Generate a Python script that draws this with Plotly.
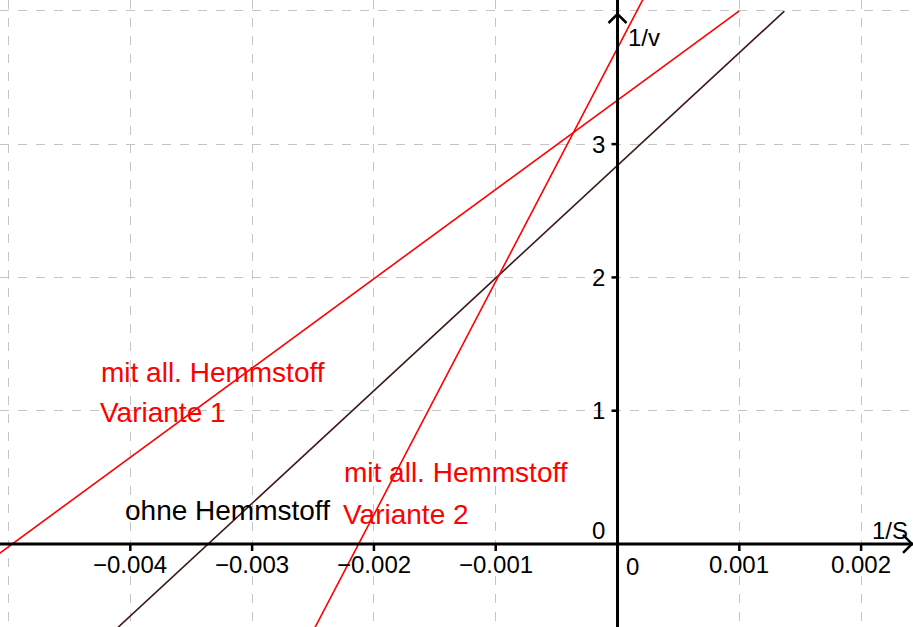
import plotly.graph_objects as go

# Lineweaver-Burk lines: 1/v = intercept + slope * (1/S)
line_names = ["ohne Hemmstoff", "mit all. Hemmstoff Variante 1", "mit all. Hemmstoff Variante 2"]
intercepts = [2.84, 3.33, 3.72]
slopes = [845.0, 670.0, 1750.0]
x_starts = [-0.0055, -0.0055, -0.0055]
x_ends = [0.00137, 0.001, 0.0025]
line_colors = ["#3d1a1a", "#ff0000", "#ff0000"]

x_ticks = [-0.004, -0.003, -0.002, -0.001, 0.001, 0.002]
x_tick_labels = ["\u22120.004", "\u22120.003", "\u22120.002", "\u22120.001", "0.001", "0.002"]
y_ticks = [1, 2, 3]
y_tick_labels = ["1", "2", "3"]

X_MIN, X_MAX = -0.00507, 0.002426
Y_MIN, Y_MAX = -0.6227, 4.081

FONT = "Liberation Sans, Arial, sans-serif"

fig = go.Figure()
for name, b, m, x0, x1, c in zip(line_names, intercepts, slopes, x_starts, x_ends, line_colors):
    xs = [x0, x1]
    fig.add_trace(go.Scatter(x=xs, y=[b + m * x for x in xs], mode="lines",
                             line=dict(color=c, width=1.6), name=name,
                             hoverinfo="skip", showlegend=False))

shapes = []
# axes
shapes.append(dict(type="line", xref="x", yref="y", x0=X_MIN, x1=X_MAX, y0=0, y1=0,
                   line=dict(color="black", width=3), layer="above"))
shapes.append(dict(type="line", xref="x", yref="y", x0=0, x1=0, y0=Y_MIN, y1=Y_MAX,
                   line=dict(color="black", width=3), layer="above"))
# arrow heads
shapes.append(dict(type="path", xref="x", yref="y", xsizemode="pixel", ysizemode="pixel",
                   xanchor=X_MAX, yanchor=0, path="M -10,9 L -1,0 L -10,-9",
                   line=dict(color="black", width=2.5), layer="above"))
shapes.append(dict(type="path", xref="x", yref="y", xsizemode="pixel", ysizemode="pixel",
                   xanchor=0, yanchor=Y_MAX, path="M -9,-23 L 0,-14 L 9,-23",
                   line=dict(color="black", width=2.5), layer="above"))
# tick marks
for t in x_ticks:
    shapes.append(dict(type="line", xref="x", yref="y", ysizemode="pixel", yanchor=0,
                       x0=t, x1=t, y0=0, y1=-7, line=dict(color="black", width=2.5), layer="above"))
for t in y_ticks:
    shapes.append(dict(type="line", xref="x", yref="y", xsizemode="pixel", xanchor=0,
                       x0=-6, x1=0, y0=t, y1=t, line=dict(color="black", width=2.5), layer="above"))

ann = []
for t, lab in zip(x_ticks, x_tick_labels):
    ann.append(dict(x=t, y=0, text=lab, showarrow=False, yshift=-21, xanchor="center",
                    yanchor="middle", font=dict(size=24, color="black", family=FONT)))
ann.append(dict(x=0, y=0, text="0", showarrow=False, xshift=15, yshift=-23, xanchor="center",
                yanchor="middle", font=dict(size=24, color="black", family=FONT)))
for t, lab in zip(y_ticks, y_tick_labels):
    ann.append(dict(x=0, y=t, text=lab, showarrow=False, xshift=-11, xanchor="right",
                    yanchor="middle", font=dict(size=24, color="black", family=FONT)))
ann.append(dict(x=0, y=0, text="0", showarrow=False, xshift=-11, yshift=13, xanchor="right",
                yanchor="middle", font=dict(size=24, color="black", family=FONT)))
ann.append(dict(x=0, y=3.796, text="1/v", showarrow=False, xshift=8, xanchor="left",
                yanchor="middle", font=dict(size=24, color="black", family=FONT)))
ann.append(dict(x=0.002073, y=0.105, text="1/S", showarrow=False, xanchor="left",
                yanchor="middle", font=dict(size=24, color="black", family=FONT)))

labels = [
    ("mit all. Hemmstoff", -0.004257, 1.290, "#ff0000"),
    ("Variante 1", -0.004265, 0.983, "#ff0000"),
    ("mit all. Hemmstoff", -0.002262, 0.540, "#ff0000"),
    ("Variante 2", -0.002270, 0.2176, "#ff0000"),
    ("ohne Hemmstoff", -0.00406, 0.255, "black"),
]
for txt, x, y, c in labels:
    ann.append(dict(x=x, y=y, text=txt, showarrow=False, xanchor="left", yanchor="middle",
                    font=dict(size=28, color=c, family=FONT)))

fig.update_layout(
    width=913, height=627, margin=dict(l=0, r=0, t=0, b=0),
    paper_bgcolor="white", plot_bgcolor="white",
    xaxis=dict(range=[X_MIN, X_MAX], dtick=0.001, tick0=0, showgrid=True, gridcolor="#c4c4c4",
               gridwidth=1, griddash="dash", zeroline=False, showticklabels=False, ticks=""),
    yaxis=dict(range=[Y_MIN, Y_MAX], dtick=1, tick0=0, showgrid=True, gridcolor="#c4c4c4",
               gridwidth=1, griddash="dash", zeroline=False, showticklabels=False, ticks=""),
    shapes=shapes, annotations=ann, showlegend=False,
)
fig.write_html("out.html", config={"displayModeBar": False},
               post_script="document.body.style.margin='0px';document.body.style.overflow='hidden';")
